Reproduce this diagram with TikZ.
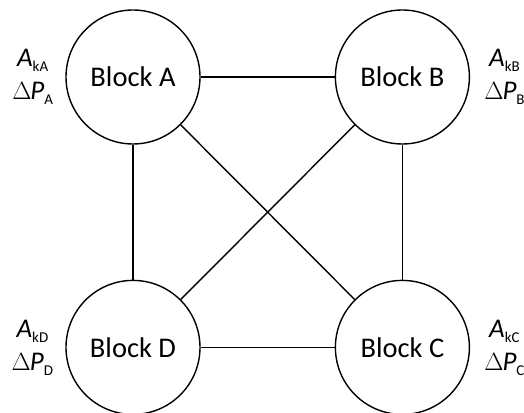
\documentclass[tikz,border=0pt]{standalone}
\usepackage{fontspec}
\setmainfont{Carlito}
\usetikzlibrary{positioning}
\newcommand{\lowsub}[1]{\raisebox{-5pt}{\fontsize{15}{15}\selectfont #1}}
\newcommand{\blocklabel}[1]{\textit{A}\lowsub{k#1}\\$\Delta$\kern-1pt\textit{P}\lowsub{#1}}

\begin{document}
\begin{tikzpicture}[x=1pt,y=1pt,
		block/.style={circle,draw,line width=1.4pt,minimum size=134pt,inner sep=0pt,
			font=\fontsize{28.5}{33}\selectfont},
		info/.style={align=center,inner sep=0pt,font=\fontsize{27}{33}\selectfont},
		link/.style={line width=1.4pt}]
		\useasboundingbox (0,0) rectangle (524,412);
		\node[block] (A) at (133,335) {Block A};
		\node[block,right=134pt of A] (B) {Block B};
		\node[block,below=135pt of B] (C) {Block C};
		\node[block,below=135pt of A] (D) {Block D};
		% pressure data of each block
		\node[info,left=12pt of A] (infoA) {\blocklabel{A}};
		\node[info,right=14pt of B] (infoB) {\blocklabel{B}};
		\node[info,right=14pt of C] (infoC) {\blocklabel{C}};
		\node[info,left=12pt of D] (infoD) {\blocklabel{D}};
		% connections
		\draw[link] (A) -- (B);
		\draw[link] (B) -- (C);
		\draw[link] (C) -- (D);
		\draw[link] (D) -- (A);
		\draw[link] (A) -- (C);
		\draw[link] (B) -- (D);
\end{tikzpicture}
\end{document}
